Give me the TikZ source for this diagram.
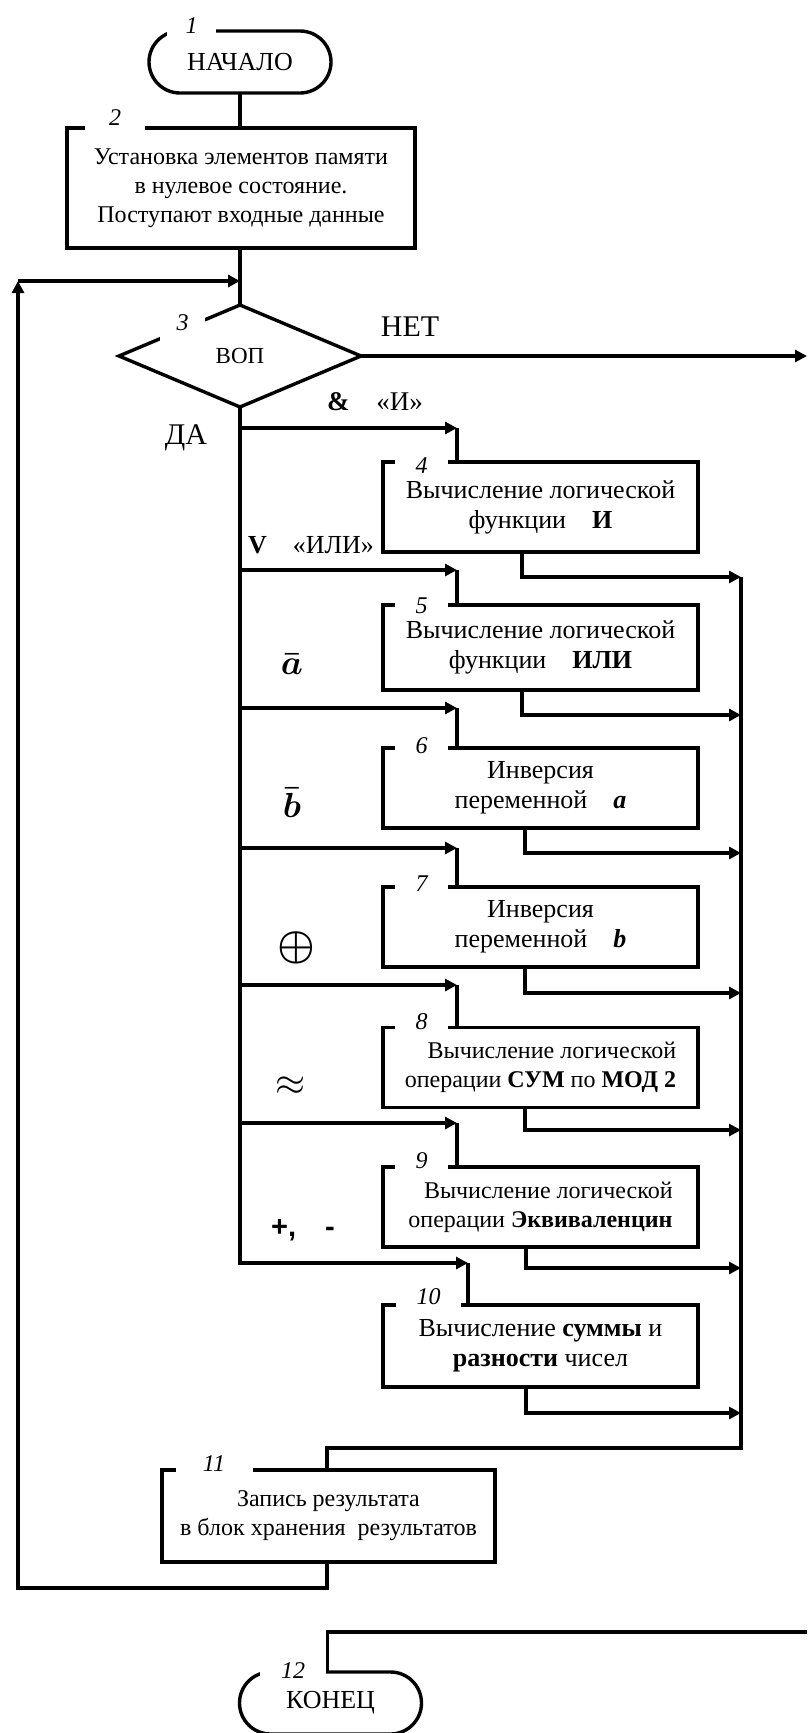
\documentclass[tikz,border=0pt]{standalone}
\usepackage{fontspec}
\setmainfont{Liberation Serif}
\newfontfamily\lsans{Liberation Sans}
\usetikzlibrary{shapes.geometric,shapes.misc,arrows.meta}
\newcommand\fbody{\fontsize{26}{30}\selectfont}
\newcommand\fsmall{\fontsize{24}{29}\selectfont}
\newcommand\fnum{\fontsize{24}{28}\selectfont\itshape}
\newcommand\fbig{\fontsize{30}{36}\selectfont}
\newcommand\fmath{\fontsize{24.88}{30}\selectfont}
\begin{document}
\begin{tikzpicture}[x=1pt,y=-1pt,line width=3.4pt,
  every node/.style={inner sep=0pt,outer sep=0pt},
  arr/.style={-{Triangle[length=12pt,width=12pt]}},
  box/.style={draw,rectangle,minimum width=315,align=center,font=\fbody},
  term/.style={draw,rounded rectangle,minimum width=182,minimum height=62,font=\fontsize{26}{30}\selectfont},
  dia/.style={draw,diamond,minimum width=242,minimum height=102,font=\fontsize{23}{26}\selectfont},
  num/.style={fill=white,anchor=base,font=\fnum,text height=15,text depth=8,minimum width=53},
  lbl/.style={font=\fbig}]
\useasboundingbox (0,0) rectangle (807,1733);

% blocks
\node[term] (t1) at (240,62) {НАЧАЛО};
\node[box,font=\fsmall,minimum width=348,minimum height=120] (b2) at (241,188)
  {Установка элементов памяти\\в нулевое состояние.\\Поступают входные данные};
\node[dia] (d3) at (240,356) {ВОП};
\node[box,minimum height=90] (b4) at (540.5,507) {Вычисление логической\\функции\quad\textbf{И}};
\node[box,minimum height=85] (b5) at (540.5,647.5) {Вычисление логической\\функции\quad\textbf{ИЛИ}};
\node[box,minimum height=80] (b6) at (540.5,788) {Инверсия\\переменной\quad\textbf{\textit{a}}};
\node[box,minimum height=80] (b7) at (540.5,927) {Инверсия\\переменной\quad\textbf{\textit{b}}};
\node[box,minimum height=80,align=right,font=\fsmall] (b8) at (540.5,1067.5)
  {Вычисление логической\\операции \textbf{СУМ} по \textbf{МОД 2}};
\node[box,minimum height=80,align=right,font=\fsmall] (b9) at (540.5,1207)
  {Вычисление логической\\операции \textbf{Эквиваленцин}};
\node[box,minimum height=82] (b10) at (540.5,1346) {Вычисление \textbf{суммы} и\\\textbf{разности} чисел};
\node[box,font=\fsmall,minimum width=333,minimum height=92] (b11) at (328.5,1516)
  {Запись результата\\в блок хранения\enspace результатов};
\node[term] (t12) at (330.5,1703) {КОНЕЦ};

% block numbers
\node[num,minimum width=49] (n1) at (191.5,33) {1};
\node[num,minimum width=60] (n2) at (115,125) {2};
\node[num,minimum width=45,text height=12,text depth=13] (n3) at (182.5,330) {3};
\node[num] (n4) at (421.5,473) {4};
\node[num] (n5) at (421.5,613) {5};
\node[num] (n6) at (421.5,753) {6};
\node[num] (n7) at (421.5,891) {7};
\node[num] (n8) at (421.5,1029) {8};
\node[num] (n9) at (421.5,1168) {9};
\node[num,minimum width=65] (n10) at (428.5,1304) {10};
\node[num,minimum width=77] (n11) at (214,1471) {11};
\node[num,minimum width=66] (n12) at (293,1678) {12};

% branch labels
\node[lbl] (net) at (410,327) {НЕТ};
\node[lbl] (da) at (186,438) {ДА};
\node[font=\fontsize{27}{30}\selectfont] (andl) at (375,402) {\textbf{\&}\quad«И»};
\node[font=\fbody] (orl) at (311,545) {\textbf{V}\quad«ИЛИ»};
\node[font=\fmath\boldmath,scale=1.4] (la) at (292,664) {$\bar{a}$};
\node[font=\fmath\boldmath,scale=1.4] (lb) at (292,803) {$\bar{b}$};
\node[font=\fmath\boldmath,scale=1.7] (lx) at (296,948) {$\oplus$};
\node[font=\fmath,scale=1.55] (le) at (290,1086) {$\approx$};
\node[font=\lsans\bfseries\fontsize{29}{32}\selectfont] (lp) at (303,1230) {+,\quad-};

% coordinates
\coordinate (lc) at (18,281);
\coordinate (lj) at (240,281);
\coordinate (netend) at (807,356);
\coordinate (j4) at (457,428);
\coordinate (j5) at (457,570);
\coordinate (j6) at (457,708);
\coordinate (j7) at (457,848);
\coordinate (j8) at (457,985);
\coordinate (j9) at (457,1123);
\coordinate (j10) at (468,1263);
\coordinate (c4) at (741,577);
\coordinate (c5) at (741,715);
\coordinate (c6) at (741,853);
\coordinate (c7) at (741,993);
\coordinate (c8) at (741,1130);
\coordinate (c9) at (741,1268);
\coordinate (c10) at (741,1413);
\coordinate (cb) at (741,1448);
\coordinate (endr) at (807,1632);

% connectors
\draw (t1.south) -- (t1.south |- b2.north);
\draw (t1.south |- b2.south) -- (d3.north);
\draw[arr] (lc) -- (lj);
\draw[arr] (d3.east) -- (netend);
\draw[arr] (d3.south) -- (d3.south |- j10) -- (j10);
\foreach \i in {4,...,9} {\draw[arr] (d3.south |- j\i) -- (j\i);}
\foreach \i in {4,...,10} {\draw (j\i) -- (j\i |- b\i.north);}
\draw[arr] ([xshift=-18.5]b4.south) |- (c4);
\draw[arr] ([xshift=-18.5]b5.south) |- (c5);
\draw[arr] ([xshift=-15.5]b6.south) |- (c6);
\draw[arr] ([xshift=-15.5]b7.south) |- (c7);
\draw[arr] ([xshift=-15.5]b8.south) |- (c8);
\draw[arr] ([xshift=-14.5]b9.south) |- (c9);
\draw[arr] ([xshift=-14.5]b10.south) |- (c10);
\draw (c4) -- (cb) -| ([xshift=-1.5]b11.north);
\draw[arr] ([xshift=-1.5]b11.south) -- ++(0,26) -| (lc);
\draw (endr) -| ([xshift=-3]t12.north);
\end{tikzpicture}
\end{document}
